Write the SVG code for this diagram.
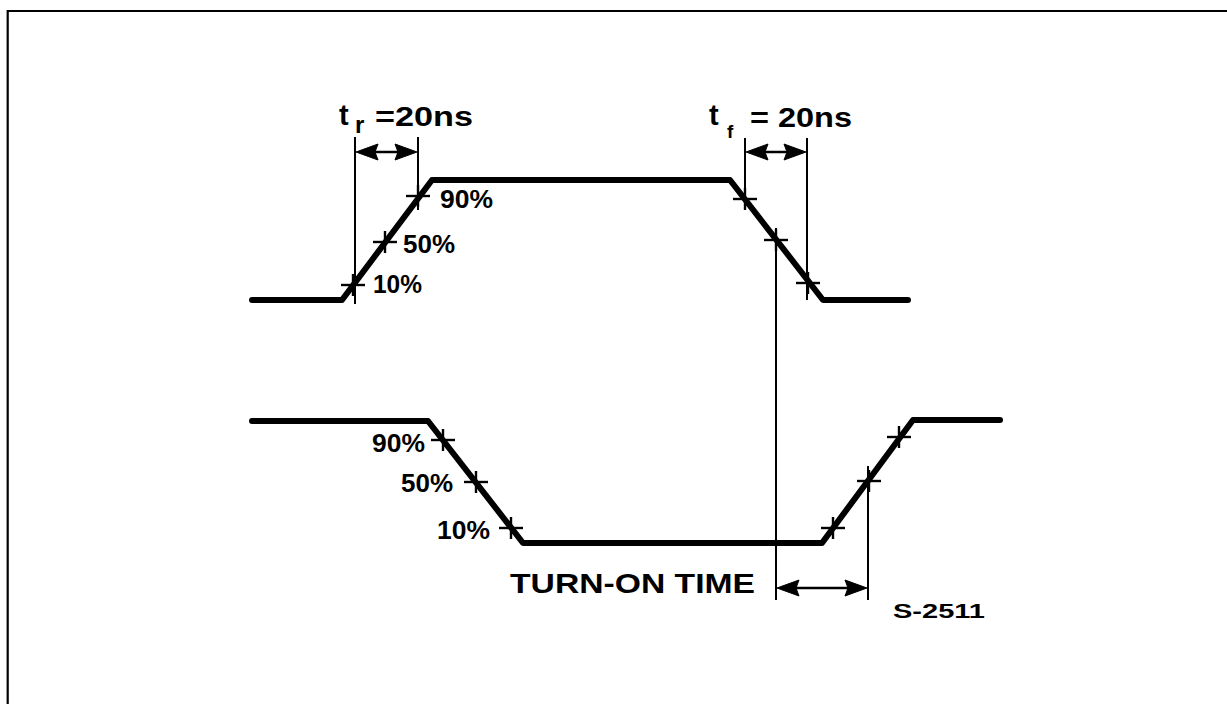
<svg xmlns="http://www.w3.org/2000/svg" width="1227" height="704" viewBox="0 0 1227 704">
  <style>
    .wave { fill: none; stroke: #000; stroke-width: 6; stroke-linecap: round; stroke-linejoin: round; }
    .thin { fill: none; stroke: #000; stroke-width: 2; }
    .tick { fill: none; stroke: #000; stroke-width: 2.4; }
    .dim { fill: none; stroke: #000; stroke-width: 2.4; }
    .head { fill: #000; stroke: #000; stroke-width: 1; stroke-linejoin: miter; }
    text { font-family: "Liberation Sans", Arial, sans-serif; font-weight: bold; fill: #000; }
    .pct { font-size: 25px; }
    .ttl { font-size: 27px; }
  </style>
  <defs>
    <path id="hl" class="head" d="M0,0 L22,-8 L19,0 L22,8 z"/>
    <path id="hr" class="head" d="M0,0 L-22,-8 L-19,0 L-22,8 z"/>
    <g id="tk">
      <line class="tick" x1="-12" y1="0" x2="12" y2="0"/>
      <line class="tick" x1="0" y1="-11" x2="0" y2="11"/>
    </g>
  </defs>
  <rect width="1227" height="704" fill="#fff"/>
  <g id="frame">
    <line x1="7.7" y1="11" x2="1227" y2="11" stroke="#000" stroke-width="2.2"/>
    <line x1="7.7" y1="10" x2="7.7" y2="704" stroke="#000" stroke-width="2.2"/>
  </g>

  <g id="connectors">
    <line class="thin" x1="355" y1="137" x2="355" y2="304"/>
    <line class="thin" x1="418" y1="137" x2="418" y2="210"/>
    <line class="thin" x1="745" y1="138" x2="745" y2="210"/>
    <line class="thin" x1="807" y1="138" x2="807" y2="300"/>
    <line class="thin" x1="776" y1="228" x2="776" y2="600"/>
    <line class="thin" x1="868" y1="466" x2="868" y2="600"/>
    <line class="dim" x1="360" y1="152" x2="413" y2="152"/>
    <use href="#hl" x="356" y="152"/>
    <use href="#hr" x="417" y="152"/>
    <line class="dim" x1="750" y1="152" x2="802" y2="152"/>
    <use href="#hl" x="746" y="152"/>
    <use href="#hr" x="806" y="152"/>
    <line class="dim" x1="781" y1="588" x2="863" y2="588"/>
    <use href="#hl" x="777" y="588"/>
    <use href="#hr" x="867" y="588"/>
  </g>

  <g id="input-wave">
    <polyline class="wave" points="252,300 342,300 432,180 730,180 823,300 908,300"/>
    <use href="#tk" x="353" y="285"/>
    <use href="#tk" x="385" y="242"/>
    <use href="#tk" x="418" y="196"/>
    <use href="#tk" x="745" y="199"/>
    <use href="#tk" x="776" y="240"/>
    <use href="#tk" x="808" y="283"/>
    <text class="pct" x="440" y="208" textLength="53" lengthAdjust="spacingAndGlyphs">90%</text>
    <text class="pct" x="403" y="253" textLength="52" lengthAdjust="spacingAndGlyphs">50%</text>
    <text class="pct" x="373" y="293" textLength="49" lengthAdjust="spacingAndGlyphs">10%</text>
  </g>

  <g id="output-wave">
    <polyline class="wave" points="252,421 428,421 523,543 822,543 913,420 1000,420"/>
    <use href="#tk" x="443" y="440"/>
    <use href="#tk" x="476" y="482"/>
    <use href="#tk" x="511" y="528"/>
    <use href="#tk" x="833" y="528"/>
    <use href="#tk" x="869" y="481"/>
    <use href="#tk" x="899" y="437"/>
    <text class="pct" x="372" y="452" textLength="53" lengthAdjust="spacingAndGlyphs">90%</text>
    <text class="pct" x="401" y="492" textLength="52" lengthAdjust="spacingAndGlyphs">50%</text>
    <text class="pct" x="437" y="539" textLength="53" lengthAdjust="spacingAndGlyphs">10%</text>
  </g>

  <g id="tr-label">
    <text x="339" y="125" font-size="29">t</text>
    <text x="355" y="133" font-size="24">r</text>
    <text class="ttl" x="375" y="126" textLength="98" lengthAdjust="spacingAndGlyphs">=20ns</text>
  </g>
  <g id="tf-label">
    <text x="709" y="125" font-size="29">t</text>
    <text x="727" y="138" font-size="19">f</text>
    <text class="ttl" x="750" y="127" textLength="102" lengthAdjust="spacingAndGlyphs">= 20ns</text>
  </g>
  <g id="turn-on-label">
    <text x="510" y="593" font-size="28" textLength="245" lengthAdjust="spacingAndGlyphs">TURN-ON TIME</text>
  </g>
  <g id="ref-label">
    <text x="893" y="618" font-size="21" textLength="92" lengthAdjust="spacingAndGlyphs">S-2511</text>
  </g>
</svg>
